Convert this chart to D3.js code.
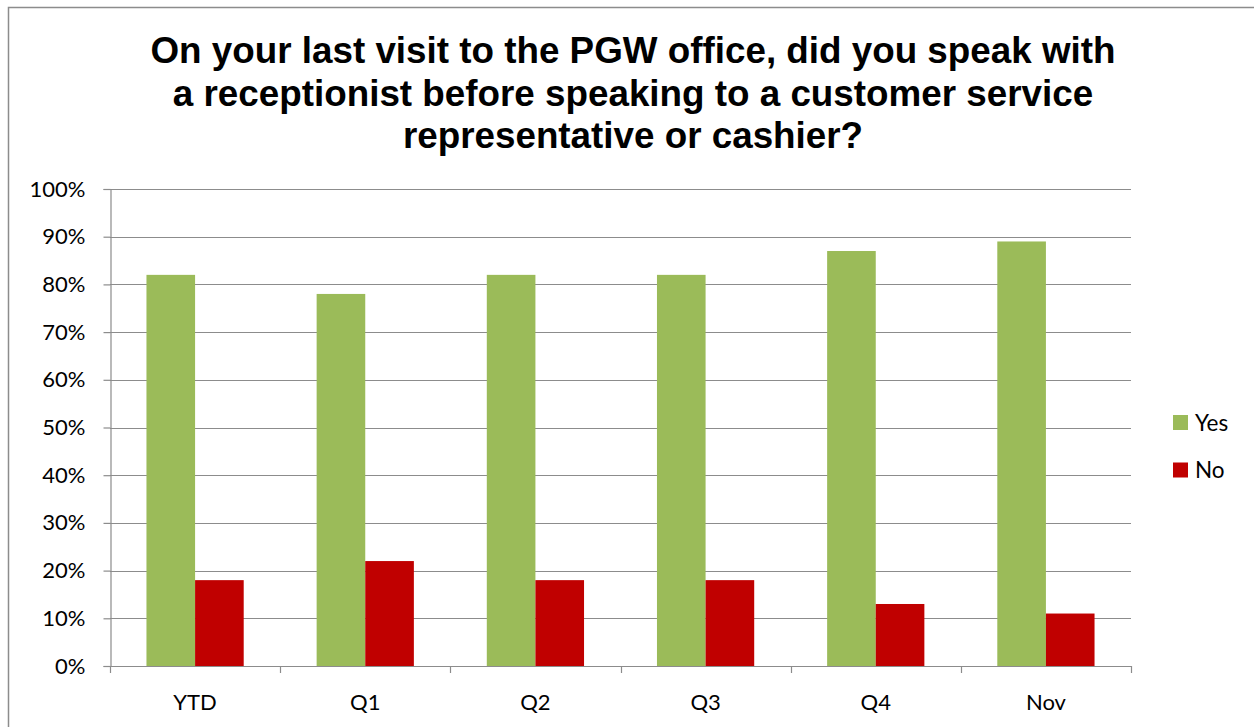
<!DOCTYPE html>
<html>
<head>
<meta charset="utf-8">
<script src="https://cdn.jsdelivr.net/npm/d3@7"></script>
<style>
  html, body { margin: 0; padding: 0; background: #fff; }
  svg { display: block; }
</style>
</head>
<body>
<svg id="chart" width="1254" height="727"></svg>
<script>
// Survey answers by period (share of respondents)
const categories = ["YTD", "Q1", "Q2", "Q3", "Q4", "Nov"];
const series = ["Yes", "No"];
const yesValues = [0.82, 0.78, 0.82, 0.82, 0.87, 0.89];
const noValues = [0.18, 0.22, 0.18, 0.18, 0.13, 0.11];
const yTicks = [0, 0.1, 0.2, 0.3, 0.4, 0.5, 0.6, 0.7, 0.8, 0.9, 1.0];
const titleLines = [
  "On your last visit to the PGW office, did you speak with",
  "a receptionist before speaking to a customer service",
  "representative or cashier?"
];

const colors = { Yes: "#9BBB59", No: "#C00000" };
const gridColor = "#8c8c8c";
const labelFont = "Lato, 'Open Sans', sans-serif";

const svg = d3.select("#chart");

// outer chart frame
svg.append("rect")
  .attr("x", 8.5).attr("y", 7.5)
  .attr("width", 1260).attr("height", 740)
  .attr("fill", "#fff")
  .attr("stroke", "#8c8c8c").attr("stroke-width", 1.5);

// title
const title = svg.append("text")
  .attr("text-anchor", "middle")
  .attr("font-family", "'Liberation Sans', Arial, sans-serif")
  .attr("font-weight", "bold")
  .attr("font-size", 36.8)
  .attr("fill", "#000");
titleLines.forEach((t, i) => {
  title.append("tspan").attr("x", 633).attr("y", 63 + i * 42.5).text(t);
});

// plot area
const plot = { left: 110, right: 1131, top: 189, bottom: 666 };

const x = d3.scaleBand().domain(categories).range([plot.left, plot.right]).paddingInner(0).paddingOuter(0);
const xs = d3.scaleBand().domain(series).range([0, x.bandwidth()]).paddingInner(0).paddingOuter(0.75);
const y = d3.scaleLinear().domain([0, 1]).range([plot.bottom, plot.top]);

// horizontal gridlines
svg.append("g")
  .selectAll("line")
  .data(yTicks.filter(d => d > 0))
  .join("line")
  .attr("x1", plot.left).attr("x2", plot.right)
  .attr("y1", d => Math.round(y(d)) + 0.5).attr("y2", d => Math.round(y(d)) + 0.5)
  .attr("stroke", gridColor).attr("stroke-width", 1.2);

// bars
const rows = categories.map((c, i) => ({ cat: c, Yes: yesValues[i], No: noValues[i] }));
const groups = svg.append("g")
  .selectAll("g")
  .data(rows)
  .join("g")
  .attr("transform", d => `translate(${x(d.cat)},0)`);

groups.selectAll("rect")
  .data(d => series.map(s => ({ key: s, value: d[s] })))
  .join("rect")
  .attr("x", d => xs(d.key))
  .attr("width", xs.bandwidth())
  .attr("y", d => y(d.value))
  .attr("height", d => y(0) - y(d.value))
  .attr("fill", d => colors[d.key]);

// y axis
const yAxis = svg.append("g")
  .attr("transform", `translate(${plot.left + 0.5},0)`)
  .call(d3.axisLeft(y).tickValues(yTicks).tickFormat(d3.format(".0%")).tickSize(7).tickPadding(18));
yAxis.select(".domain").attr("stroke", gridColor).attr("stroke-width", 1.2);
yAxis.selectAll(".tick line").attr("stroke", gridColor).attr("stroke-width", 1.2);
yAxis.selectAll(".tick text")
  .attr("font-family", labelFont).attr("font-size", 22).attr("fill", "#000");

// x axis: baseline, category boundary ticks, centred labels
const xAxis = svg.append("g")
  .attr("transform", `translate(0,${plot.bottom + 0.5})`)
  .call(d3.axisBottom(x).tickSize(0).tickPadding(28));
xAxis.select(".domain").remove();
xAxis.selectAll(".tick text")
  .attr("font-family", labelFont).attr("font-size", 22).attr("fill", "#000");

const boundaries = categories.map(c => x(c)).concat([x(categories[categories.length - 1]) + x.bandwidth()]);
svg.append("line")
  .attr("x1", plot.left).attr("x2", plot.right)
  .attr("y1", plot.bottom + 0.5).attr("y2", plot.bottom + 0.5)
  .attr("stroke", gridColor).attr("stroke-width", 1.2);
svg.append("g")
  .selectAll("line")
  .data(boundaries)
  .join("line")
  .attr("x1", d => Math.round(d) + 0.5).attr("x2", d => Math.round(d) + 0.5)
  .attr("y1", plot.bottom).attr("y2", plot.bottom + 7)
  .attr("stroke", gridColor).attr("stroke-width", 1.2);

// legend
const legend = svg.append("g")
  .selectAll("g")
  .data(series)
  .join("g")
  .attr("transform", (d, i) => `translate(1173,${415 + i * 47.5})`);
legend.append("rect")
  .attr("width", 15).attr("height", 15)
  .attr("fill", d => colors[d]);
legend.append("text")
  .attr("x", 22).attr("y", 15.5)
  .attr("font-family", labelFont).attr("font-size", 22.5).attr("fill", "#000")
  .text(d => d);
</script>
</body>
</html>
